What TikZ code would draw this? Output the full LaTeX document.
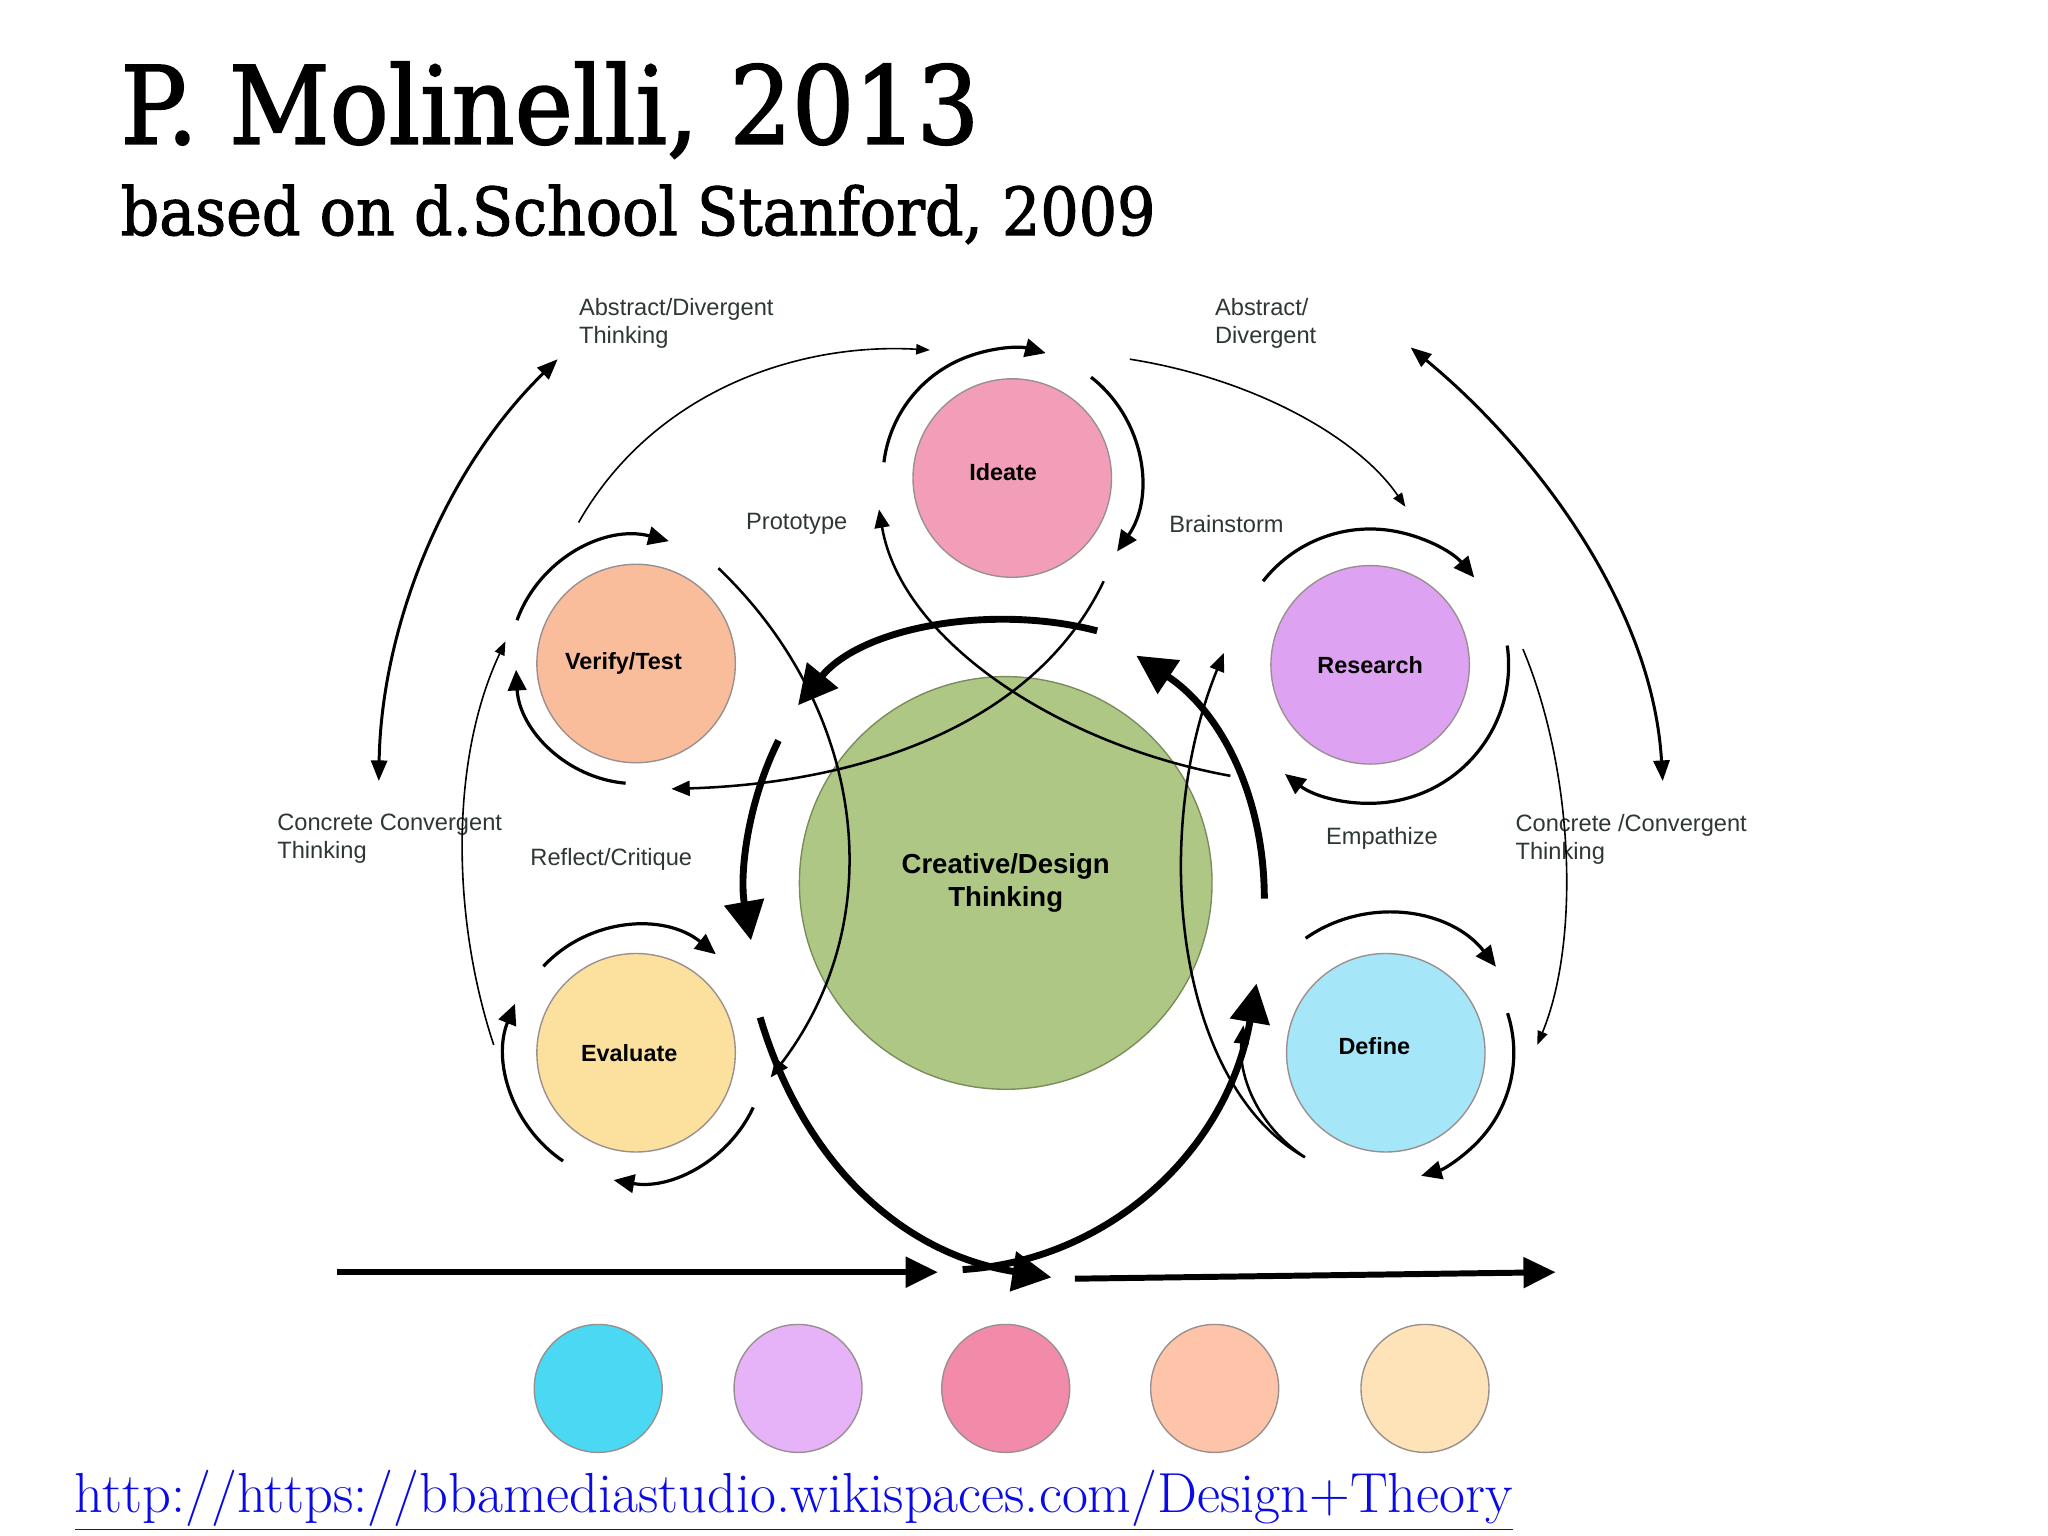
\documentclass[tikz,border=0pt]{standalone}
\usepackage{fontspec}
\newfontfamily\labelfont{Liberation Sans}
\newfontfamily\titlefont[FakeStretch=0.91, FakeBold=1.6]{DejaVu Serif}
\usepackage{xcolor}
\definecolor{Ideate Pink}{HTML}{F29EB8}
\definecolor{Verify Peach}{HTML}{F9BD9B}
\definecolor{Research Lilac}{HTML}{DDA2F2}
\definecolor{Evaluate Cream}{HTML}{FCE09D}
\definecolor{Define Sky}{HTML}{A5E6F9}
\definecolor{Core Green}{HTML}{AEC784}
\definecolor{Note Slate}{HTML}{2D3832}
\definecolor{Rim Grey}{HTML}{9A8F8F}
\definecolor{Link Blue}{HTML}{0A0AE6}
\colorlet{cIdeate}{Ideate Pink}
\colorlet{cVerify}{Verify Peach}
\colorlet{cResearch}{Research Lilac}
\colorlet{cEvaluate}{Evaluate Cream}
\colorlet{cDefine}{Define Sky}
\colorlet{cCore}{Core Green}
\colorlet{cNote}{Note Slate}
\colorlet{cRim}{Rim Grey}
\definecolor{s0}{HTML}{4BD8F3}
\definecolor{s1}{HTML}{E6B2F8}
\definecolor{s2}{HTML}{F28BA9}
\definecolor{s3}{HTML}{FDC4AA}
\definecolor{s4}{HTML}{FDE3B7}
\usetikzlibrary{calc, arrows.meta}
\tikzset{
	x = 0.02cm,
	y = -0.02cm,
	line width = 1.4pt,
	stage/.style={
		draw=cRim,
		circle,
		line width=.6pt,
		minimum size=3.04cm,
		inner sep=0pt,
		font=\labelfont\bfseries\fontsize{10.2}{12}\selectfont
	},
	core/.style={
		stage,
		fill=cCore,
		draw=cCore!70!black,
		minimum size=6.32cm,
		align=center,
		font=\labelfont\bfseries\fontsize{12}{14.8}\selectfont
	},
	swatch/.style={
		draw=cRim,
		circle,
		line width=.6pt,
		minimum size=1.96cm,
		inner sep=0pt
	},
	note/.style={
		text=cNote,
		inner sep=0pt,
		align=left,
		font=\labelfont\fontsize{10.3}{12.2}\selectfont
	},
	ring/.style={
		-{Triangle[length=9pt,width=8pt]},
		line width=1.4pt
	},
	heavy/.style={
		-{Triangle[length=17pt,width=17pt]},
		line width=3pt
	},
	thin/.style={
		-{Triangle[length=6pt,width=4.5pt]},
		line width=.7pt
	},
	cross/.style={
		-{Triangle[length=8pt,width=6.5pt]},
		line width=1.1pt
	},
	outer/.style={
		{Triangle[length=9pt,width=7pt]}-{Triangle[length=9pt,width=7pt]},
		line width=1.3pt
	},
	flow/.style={
		-{Triangle[length=14pt,width=13pt]},
		line width=2.6pt
	}
}

\begin{document}
\begin{tikzpicture}
% ---
% frame and headings
% ---
\useasboundingbox (0,0) rectangle (1568,1176);
\node[anchor=base west, inner sep=0pt, font=\titlefont\fontsize{47}{50}\selectfont] (title) at (92,110) {P. Molinelli, 2013};
\node[anchor=base west, inner sep=0pt, font=\titlefont\fontsize{28.9}{32}\selectfont] (subtitle) at (92,180) {based on d.School Stanford, 2009};

% ---
% stages
% ---
\node[core] (core) at (770,676) {Creative/Design\\Thinking};
\node[stage, fill=cIdeate] (ideate) at (775,366) {\raisebox{5pt}{Ideate}\hspace*{8pt}};
\node[stage, fill=cVerify] (verify) at (487,508) {Verify/Test\hspace*{11pt}};
\node[stage, fill=cResearch] (research) at (1049,509) {Research};
\node[stage, fill=cEvaluate] (evaluate) at (487,806) {Evaluate\hspace*{6pt}};
\node[stage, fill=cDefine] (define) at (1061,806) {\raisebox{6pt}{Define}\hspace*{10pt}};

% ---
% labels
% ---
\node[note, anchor=north west] (abs-l) at (443,228) {Abstract/Divergent\\Thinking};
\node[note, anchor=north west] (abs-r) at (930,228) {Abstract/\\Divergent};
\node[note, anchor=north west] (con-l) at (212,623) {Concrete Convergent\\Thinking};
\node[note, anchor=north west] (con-r) at (1160,623) {Concrete /Convergent\\Thinking};
\node[note] (prototype) at (610,401) {Prototype};
\node[note] (brainstorm) at (939,401) {Brainstorm};
\node[note] (reflect) at (468,658) {Reflect/Critique};
\node[note] (empathize) at (1058,642) {Empathize};

% ---
% loops round each stage
% ---
\draw[ring] ($(ideate)+(187:99)$) arc[start angle=187, end angle=285, radius=99];
\draw[ring] ($(ideate)+(-52:98)$) arc[start angle=-52, end angle=35, radius=98];
\draw[ring] ($(verify)+(200:97)$) arc[start angle=200, end angle=285, radius=97];
\draw[ring] ($(verify)+(95:92)$) arc[start angle=95, end angle=177, radius=92];
\draw[ring] ($(research)+(218:104)$) arc[start angle=218, end angle=320, radius=104];
\draw[ring] ($(research)+(-8:106)$) arc[start angle=-8, end angle=128, radius=106];
\draw[ring] ($(evaluate)+(223:97)$) arc[start angle=223, end angle=309, radius=97];
\draw[ring] ($(evaluate)+(124:100)$) arc[start angle=124, end angle=202, radius=100];
\draw[ring] ($(evaluate)+(25:99)$) arc[start angle=25, end angle=100, radius=99];
\draw[ring] ($(define)+(235:107)$) arc[start angle=235, end angle=322, radius=107];
\draw[ring] ($(define)+(-18:98)$) arc[start angle=-18, end angle=74, radius=98];

% ---
% outer thinking arcs
% ---
\draw[outer] (290,598) .. controls (292,480) and (340,360) .. (427,275);
\draw[outer] (1080,266) .. controls (1170,340) and (1265,460) .. (1273,598);
\draw[thin] (443,400) .. controls (500,300) and (610,262) .. (712,268);
\draw[thin] (865,275) .. controls (960,290) and (1040,335) .. (1076,388);
\draw[thin] (378,800) .. controls (345,700) and (345,580) .. (387,491);
\draw[thin] (1166,497) .. controls (1205,590) and (1210,720) .. (1177,800);

% ---
% crossing links
% ---
\draw[cross] (942,594) .. controls (810,570) and (690,490) .. (673,390);
\draw[cross] (845,445) .. controls (790,560) and (650,600) .. (514,604);
\draw[cross] (550,435) .. controls (660,540) and (685,700) .. (590,825);
\draw[cross] (999,886) .. controls (900,830) and (880,640) .. (937,500);
\draw[cross] (999,886) .. controls (960,860) and (948,820) .. (952,785);

% ---
% heavy cycle
% ---
\draw[heavy] (840,483) .. controls (760,462) and (660,480) .. (611,540);
\draw[heavy] (596,567) .. controls (572,615) and (566,670) .. (575,720);
\draw[heavy] (968,688) .. controls (968,610) and (935,545) .. (870,502);
\draw[heavy] (582,779) .. controls (615,890) and (690,960) .. (805,978);
\draw[heavy] (737,972) .. controls (850,965) and (940,880) .. (962,753);

% ---
% timeline
% ---
\coordinate (flow-a) at (258,974);
\coordinate (flow-b) at (718,974);
\coordinate (flow-c) at (823,979);
\coordinate (flow-d) at (1191,974);
\draw[flow] (flow-a) -- (flow-b);
\draw[flow] (flow-c) -- (flow-d);

\node[swatch, fill=s0] (sw-0) at (458,1063) {};
\node[swatch, fill=s1] (sw-1) at (611,1063) {};
\node[swatch, fill=s2] (sw-2) at (770,1063) {};
\node[swatch, fill=s3] (sw-3) at (930,1063) {};
\node[swatch, fill=s4] (sw-4) at (1091,1063) {};

% ---
% source
% ---
\node[anchor=base west, inner sep=0pt, text=Link Blue, font=\fontsize{24.6}{28}\selectfont] (source) at (57,1158) {\underline{http://https://bbamediastudio.wikispaces.com/Design+Theory}};
\end{tikzpicture}
\end{document}
